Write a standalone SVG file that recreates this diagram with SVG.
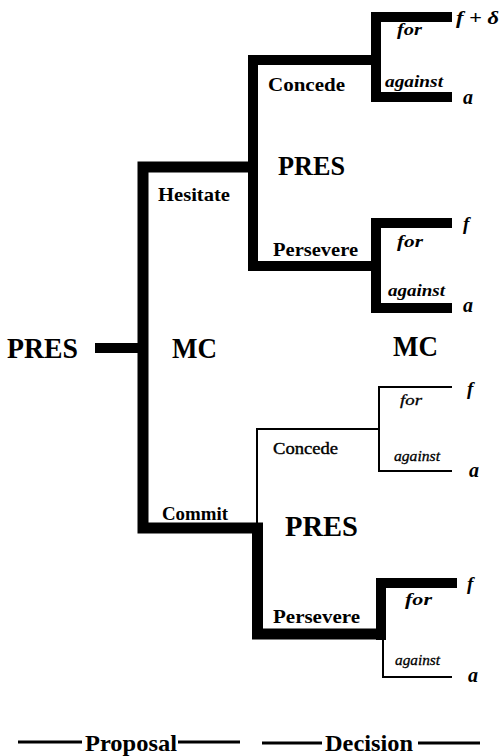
<svg xmlns="http://www.w3.org/2000/svg" width="501" height="756" viewBox="0 0 501 756">
<style>
text{font-family:'Liberation Serif','DejaVu Serif',serif;fill:#000}
.b{font-weight:bold}
.r{font-weight:normal;stroke:#000;stroke-width:0.4}
.i{font-style:italic;font-weight:bold}
.il{font-style:italic;font-weight:normal;stroke:#000;stroke-width:0.3}
.thick{fill:none;stroke:#000;stroke-width:10;stroke-linejoin:miter;stroke-linecap:butt}
.main{fill:none;stroke:#000;stroke-width:11;stroke-linejoin:miter;stroke-linecap:butt}
.thin{fill:none;stroke:#000;stroke-width:2;stroke-linejoin:miter;stroke-linecap:butt}
.rule{fill:none;stroke:#000;stroke-width:3}
</style>
<rect width="501" height="756" fill="#fff"/>
<g id="connectors">
  <path class="thick" d="M95,348 H140"/>
  <path class="main" d="M253,167 H143 V528 H257.5 V634 H381"/>
  <path class="thick" d="M376,60 H253 V266 H376"/>
  <path class="thick" d="M452,17 H376 V97 H452"/>
  <path class="thick" d="M452,223 H376 V308 H452"/>
  <path class="thin" d="M380,429 H257 V523"/>
  <path class="thin" d="M452,387 H379 V471 H452"/>
  <path class="thick" d="M381,640 V583 H457"/>
  <path class="thin" d="M383,639 V677 H452"/>
</g>
<g id="node-pres-root"><text class="b" x="7" y="358" font-size="29" textLength="71" lengthAdjust="spacingAndGlyphs">PRES</text></g>
<g id="node-mc-root"><text class="b" x="172" y="358" font-size="29" textLength="45" lengthAdjust="spacingAndGlyphs">MC</text></g>
<g id="node-pres-hesitate"><text class="b" x="278" y="175" font-size="28" textLength="67" lengthAdjust="spacingAndGlyphs">PRES</text></g>
<g id="node-mc-decision"><text class="b" x="393" y="356" font-size="29" textLength="45" lengthAdjust="spacingAndGlyphs">MC</text></g>
<g id="node-pres-commit"><text class="b" x="285" y="536" font-size="29" textLength="73" lengthAdjust="spacingAndGlyphs">PRES</text></g>
<g id="edge-labels">
  <text class="b" x="158" y="201" font-size="19" textLength="72" lengthAdjust="spacingAndGlyphs">Hesitate</text>
  <text class="b" x="162" y="520" font-size="19" textLength="66" lengthAdjust="spacingAndGlyphs">Commit</text>
  <text class="b" x="268" y="91" font-size="19" textLength="77" lengthAdjust="spacingAndGlyphs">Concede</text>
  <text class="b" x="273" y="256" font-size="19" textLength="85" lengthAdjust="spacingAndGlyphs">Persevere</text>
  <text class="r" x="273" y="454" font-size="17" textLength="65" lengthAdjust="spacingAndGlyphs">Concede</text>
  <text class="b" x="273" y="623" font-size="19" textLength="87" lengthAdjust="spacingAndGlyphs">Persevere</text>
  <text class="i" x="397" y="35" font-size="16" textLength="25" lengthAdjust="spacingAndGlyphs">for</text>
  <text class="i" x="385" y="87" font-size="16" textLength="58" lengthAdjust="spacingAndGlyphs">against</text>
  <text class="i" x="397" y="247" font-size="16" textLength="26" lengthAdjust="spacingAndGlyphs">for</text>
  <text class="i" x="388" y="296" font-size="16" textLength="57" lengthAdjust="spacingAndGlyphs">against</text>
  <text class="il" x="400" y="405" font-size="15" textLength="22" lengthAdjust="spacingAndGlyphs">for</text>
  <text class="il" x="394" y="461" font-size="15" textLength="46" lengthAdjust="spacingAndGlyphs">against</text>
  <text class="i" x="405" y="605" font-size="16" textLength="27" lengthAdjust="spacingAndGlyphs">for</text>
  <text class="il" x="395" y="665" font-size="15" textLength="45" lengthAdjust="spacingAndGlyphs">against</text>
</g>
<g id="outcomes">
  <text class="i" x="456" y="24" font-size="19" textLength="43" lengthAdjust="spacingAndGlyphs">f + δ</text>
  <text class="i" x="463" y="104" font-size="20">a</text>
  <text class="i" x="463" y="230" font-size="19">f</text>
  <text class="i" x="463" y="312" font-size="20">a</text>
  <text class="i" x="467" y="395" font-size="19">f</text>
  <text class="i" x="469" y="477" font-size="20">a</text>
  <text class="i" x="467" y="590" font-size="19">f</text>
  <text class="i" x="468" y="682" font-size="20">a</text>
</g>
<g id="axis">
  <path class="rule" d="M18,742 H82 M178,742 H240 M262,743 H322 M418,743 H480"/>
  <text class="b" x="85" y="751" font-size="24" textLength="92" lengthAdjust="spacingAndGlyphs">Proposal</text>
  <text class="b" x="325" y="751" font-size="24" textLength="88" lengthAdjust="spacingAndGlyphs">Decision</text>
</g>
</svg>
